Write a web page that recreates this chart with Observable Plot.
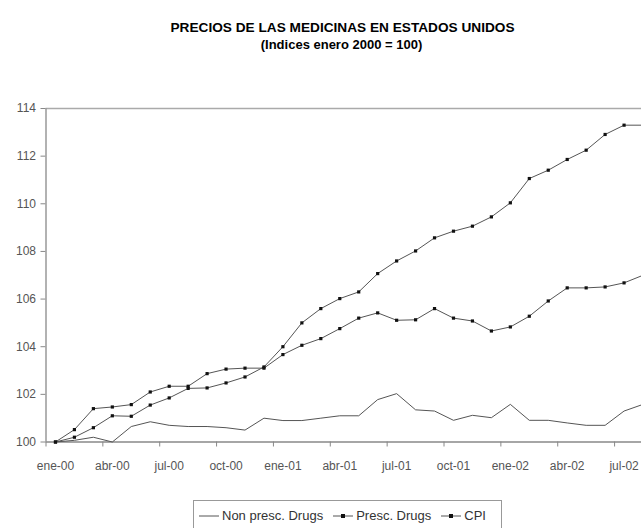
<!DOCTYPE html>
<html>
<head>
<meta charset="utf-8">
<script src="https://cdn.jsdelivr.net/npm/d3@7"></script>
<script src="https://cdn.jsdelivr.net/npm/@observablehq/plot@0.6"></script>
<style>
  html, body { margin: 0; padding: 0; background: #fff; overflow: hidden; width: 641px; height: 528px; }
  body { font-family: "Liberation Sans Narrow", "Arial Narrow", "Liberation Sans", Arial, sans-serif; }
  #title { height: 60px; text-align: center; color: #000; font-weight: bold; font-size: 13px; position: relative; }
  #title .l1 { position: absolute; left: 0; right: 0; top: 20px; padding-left: 42px; transform: scaleX(1.05); }
  #title .l2 { position: absolute; left: 0; right: 0; top: 37px; padding-left: 42px; }
  #legend { position: absolute; left: 193px; top: 500px; width: 309px; height: 40px; border: 1px solid #999; box-sizing: border-box;
            display: flex; align-items: flex-start; padding-top: 7px; padding-left: 4px; font-size: 13px; color: #333; white-space: nowrap; }
  #legend .item { display: flex; align-items: center; margin-right: 9px; }
  #legend svg { margin-right: 2px; }
</style>
</head>
<body>
<div id="title"><div class="l1">PRECIOS DE LAS MEDICINAS EN ESTADOS UNIDOS</div><div class="l2">(Indices enero 2000 = 100)</div></div>
<div id="chart"></div>
<div id="legend"></div>
<script>
const months = ["ene-00","feb-00","mar-00","abr-00","may-00","jun-00","jul-00","ago-00","sep-00","oct-00","nov-00","dic-00",
                "ene-01","feb-01","mar-01","abr-01","may-01","jun-01","jul-01","ago-01","sep-01","oct-01","nov-01","dic-01",
                "ene-02","feb-02","mar-02","abr-02","may-02","jun-02","jul-02","ago-02"];
const nonPresc = [100.0,100.07,100.2,100.0,100.65,100.85,100.7,100.65,100.65,100.6,100.5,101.0,
                  100.9,100.9,101.0,101.1,101.1,101.78,102.03,101.35,101.3,100.91,101.12,101.02,
                  101.58,100.91,100.91,100.8,100.7,100.7,101.3,101.58];
const presc = [100.0,100.2,100.6,101.1,101.08,101.55,101.85,102.25,102.27,102.48,102.73,103.15,
               104.0,105.0,105.6,106.02,106.3,107.07,107.6,108.02,108.57,108.85,109.06,109.45,
               110.04,111.06,111.41,111.86,112.25,112.91,113.3,113.3];
const cpi = [100.0,100.52,101.4,101.47,101.57,102.1,102.34,102.34,102.87,103.06,103.1,103.1,
             103.67,104.06,104.34,104.76,105.2,105.42,105.11,105.13,105.6,105.2,105.08,104.66,
             104.83,105.28,105.92,106.47,106.47,106.51,106.68,107.0];
const xTickLabels = ["ene-00","abr-00","jul-00","oct-00","ene-01","abr-01","jul-01","oct-01","ene-02","abr-02","jul-02"];
const yTicks = [100,102,104,106,108,110,112,114];
const seriesNames = ["Non presc. Drugs","Presc. Drugs","CPI"];

const rows = [];
months.forEach((m, i) => {
  rows.push({i, month: m, series: seriesNames[0], value: nonPresc[i]});
  rows.push({i, month: m, series: seriesNames[1], value: presc[i]});
  rows.push({i, month: m, series: seriesNames[2], value: cpi[i]});
});
const labelPos = xTickLabels.map(l => months.indexOf(l));
const boundaries = labelPos.map(p => p - 0.5);
const markerRows = rows.filter(d => d.series !== seriesNames[0]);

const font = '"Liberation Sans Narrow", "Arial Narrow", "Liberation Sans", Arial, sans-serif';
const chart = Plot.plot({
  width: 641,
  height: 422,
  marginLeft: 45.5,
  marginRight: 0,
  marginTop: 48,
  marginBottom: 40.5,
  style: {fontFamily: font, fontSize: "12px", color: "#444", background: "white", overflow: "hidden"},
  x: {type: "linear", domain: [-0.5, 30.92], axis: null},
  y: {domain: [100, 114], axis: null},
  marks: [
    Plot.ruleY([114], {stroke: "#aaa", strokeWidth: 1.5}),
    Plot.axisY({ticks: yTicks, label: null, tickSize: 5, tickPadding: 5, stroke: "#888", fill: "#555", fontSize: 12}),
    Plot.axisX({ticks: boundaries, label: null, tickSize: 5, tickFormat: () => "", stroke: "#888"}),
    Plot.axisX({ticks: labelPos, label: null, tickSize: 0, tickPadding: 19, tickFormat: i => months[i], fill: "#555", fontSize: 12}),
    Plot.ruleX([-0.5], {stroke: "#999", strokeWidth: 1.5}),
    Plot.ruleY([100], {stroke: "#888", strokeWidth: 1.5}),
    Plot.line(rows, {x: "i", y: "value", z: "series", stroke: "#555", strokeWidth: 1}),
    Plot.dot(markerRows, {x: "i", y: "value", symbol: "square", r: 1.8, fill: "#111", stroke: "none"})
  ]
});
document.getElementById("chart").appendChild(chart);

const legend = document.getElementById("legend");
seriesNames.forEach((name, k) => {
  const item = document.createElement("div");
  item.className = "item";
  const marker = k === 0 ? "" : '<rect x="9" y="5" width="4" height="4" fill="#111"/>';
  item.innerHTML = `<svg width="22" height="14"><line x1="1" x2="21" y1="7" y2="7" stroke="#555" stroke-width="1"/>${marker}</svg><span>${name}</span>`;
  legend.appendChild(item);
});
</script>
</body>
</html>
